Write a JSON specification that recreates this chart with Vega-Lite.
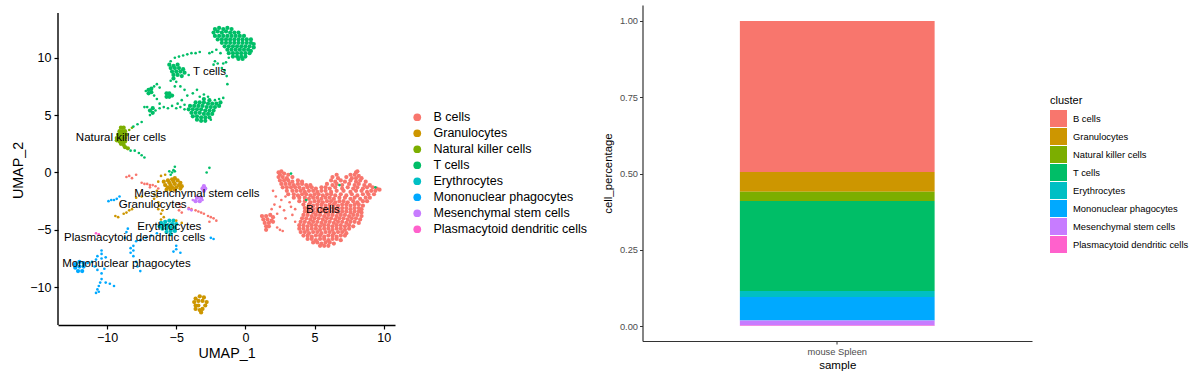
{"$schema":"https://vega.github.io/schema/vega-lite/v6.json","padding":{"left":11,"top":5,"right":0,"bottom":0},"background":"white","bounds":"flush","spacing":247.5,"resolve":{"scale":{"color":"independent"}},"config":{"view":{"stroke":null},"font":"Liberation Sans"},"datasets":{"cells":[
{"x":2.4,"y":0,"c":"B cells"},{"x":2.6,"y":0.1,"c":"B cells"},{"x":2.8,"y":-0.1,"c":"B cells"},{"x":8,"y":0,"c":"B cells"},{"x":8.1,"y":0.1,"c":"B cells"},{"x":2.5,"y":-0.2,"c":"B cells"},{"x":3.1,"y":-0.2,"c":"B cells"},{"x":7.6,"y":-0.2,"c":"B cells"},{"x":7.9,"y":-0.2,"c":"B cells"},{"x":8.2,"y":-0.3,"c":"B cells"},{"x":6.6,"y":-0.2,"c":"B cells"},{"x":2.4,"y":-0.4,"c":"B cells"},{"x":2.7,"y":-0.4,"c":"B cells"},{"x":3,"y":-0.5,"c":"B cells"},{"x":3.4,"y":-0.4,"c":"B cells"},{"x":6.3,"y":-0.4,"c":"B cells"},{"x":6.7,"y":-0.5,"c":"B cells"},{"x":7.3,"y":-0.4,"c":"B cells"},{"x":7.7,"y":-0.5,"c":"B cells"},{"x":8,"y":-0.5,"c":"B cells"},{"x":8.4,"y":-0.5,"c":"B cells"},
{"x":2.5,"y":-0.7,"c":"B cells"},{"x":2.8,"y":-0.7,"c":"B cells"},{"x":3.1,"y":-0.7,"c":"B cells"},{"x":3.4,"y":-0.8,"c":"B cells"},{"x":3.8,"y":-0.7,"c":"B cells"},{"x":4.1,"y":-0.8,"c":"B cells"},{"x":6.2,"y":-0.7,"c":"B cells"},{"x":6.5,"y":-0.8,"c":"B cells"},{"x":6.9,"y":-0.7,"c":"B cells"},{"x":7.2,"y":-0.8,"c":"B cells"},{"x":7.6,"y":-0.7,"c":"B cells"},{"x":8,"y":-0.8,"c":"B cells"},{"x":8.3,"y":-0.7,"c":"B cells"},{"x":8.7,"y":-0.8,"c":"B cells"},
{"x":2.6,"y":-1,"c":"B cells"},{"x":2.9,"y":-1,"c":"B cells"},{"x":3.2,"y":-1,"c":"B cells"},{"x":3.5,"y":-1.1,"c":"B cells"},{"x":3.8,"y":-1,"c":"B cells"},{"x":4.1,"y":-1,"c":"B cells"},{"x":4.4,"y":-1.1,"c":"B cells"},{"x":4.7,"y":-1.1,"c":"B cells"},{"x":5.9,"y":-1,"c":"B cells"},{"x":6.3,"y":-1.1,"c":"B cells"},{"x":6.6,"y":-1,"c":"B cells"},{"x":7,"y":-1.1,"c":"B cells"},{"x":7.5,"y":-1,"c":"B cells"},{"x":7.9,"y":-1.1,"c":"B cells"},{"x":8.2,"y":-1,"c":"B cells"},{"x":8.6,"y":-1.1,"c":"B cells"},{"x":9,"y":-1.1,"c":"B cells"},
{"x":2.7,"y":-1.3,"c":"B cells"},{"x":3,"y":-1.3,"c":"B cells"},{"x":3.3,"y":-1.3,"c":"B cells"},{"x":3.6,"y":-1.3,"c":"B cells"},{"x":3.9,"y":-1.3,"c":"B cells"},{"x":4.2,"y":-1.4,"c":"B cells"},{"x":4.5,"y":-1.3,"c":"B cells"},{"x":4.8,"y":-1.3,"c":"B cells"},{"x":5.1,"y":-1.4,"c":"B cells"},{"x":5.5,"y":-1.3,"c":"B cells"},{"x":5.8,"y":-1.3,"c":"B cells"},{"x":6.1,"y":-1.4,"c":"B cells"},{"x":6.5,"y":-1.3,"c":"B cells"},{"x":7,"y":-1.4,"c":"B cells"},{"x":7.4,"y":-1.3,"c":"B cells"},{"x":7.8,"y":-1.4,"c":"B cells"},{"x":8.1,"y":-1.3,"c":"B cells"},{"x":8.5,"y":-1.4,"c":"B cells"},{"x":8.8,"y":-1.3,"c":"B cells"},{"x":9.2,"y":-1.3,"c":"B cells"},{"x":9.5,"y":-1.4,"c":"B cells"},
{"x":3,"y":-1.6,"c":"B cells"},{"x":3.4,"y":-1.6,"c":"B cells"},{"x":3.7,"y":-1.6,"c":"B cells"},{"x":4,"y":-1.6,"c":"B cells"},{"x":4.3,"y":-1.7,"c":"B cells"},{"x":4.6,"y":-1.6,"c":"B cells"},{"x":4.9,"y":-1.6,"c":"B cells"},{"x":5.2,"y":-1.7,"c":"B cells"},{"x":5.5,"y":-1.6,"c":"B cells"},{"x":5.8,"y":-1.6,"c":"B cells"},{"x":6.2,"y":-1.7,"c":"B cells"},{"x":6.6,"y":-1.6,"c":"B cells"},{"x":7.1,"y":-1.6,"c":"B cells"},{"x":7.6,"y":-1.7,"c":"B cells"},{"x":8,"y":-1.6,"c":"B cells"},{"x":8.4,"y":-1.6,"c":"B cells"},{"x":8.8,"y":-1.7,"c":"B cells"},{"x":9.1,"y":-1.6,"c":"B cells"},{"x":9.4,"y":-1.6,"c":"B cells"},{"x":9.7,"y":-1.5,"c":"B cells"},
{"x":3.1,"y":-1.9,"c":"B cells"},{"x":3.5,"y":-1.9,"c":"B cells"},{"x":3.8,"y":-2,"c":"B cells"},{"x":4.1,"y":-1.9,"c":"B cells"},{"x":4.4,"y":-1.9,"c":"B cells"},{"x":4.7,"y":-2,"c":"B cells"},{"x":5,"y":-1.9,"c":"B cells"},{"x":5.3,"y":-1.9,"c":"B cells"},{"x":5.6,"y":-2,"c":"B cells"},{"x":5.9,"y":-1.9,"c":"B cells"},{"x":6.2,"y":-1.9,"c":"B cells"},{"x":6.5,"y":-2,"c":"B cells"},{"x":6.9,"y":-1.9,"c":"B cells"},{"x":7.3,"y":-2,"c":"B cells"},{"x":7.7,"y":-1.9,"c":"B cells"},{"x":8.1,"y":-2,"c":"B cells"},{"x":8.5,"y":-1.9,"c":"B cells"},{"x":8.9,"y":-1.9,"c":"B cells"},{"x":9.3,"y":-1.9,"c":"B cells"},
{"x":3.5,"y":-2.2,"c":"B cells"},{"x":3.9,"y":-2.2,"c":"B cells"},{"x":4.3,"y":-2.2,"c":"B cells"},{"x":4.6,"y":-2.3,"c":"B cells"},{"x":4.9,"y":-2.2,"c":"B cells"},{"x":5.2,"y":-2.2,"c":"B cells"},{"x":5.5,"y":-2.3,"c":"B cells"},{"x":5.8,"y":-2.2,"c":"B cells"},{"x":6.1,"y":-2.2,"c":"B cells"},{"x":6.4,"y":-2.3,"c":"B cells"},{"x":6.8,"y":-2.2,"c":"B cells"},{"x":7.2,"y":-2.2,"c":"B cells"},{"x":7.6,"y":-2.3,"c":"B cells"},{"x":7.9,"y":-2.2,"c":"B cells"},{"x":8.3,"y":-2.3,"c":"B cells"},{"x":8.7,"y":-2.2,"c":"B cells"},{"x":9,"y":-2.2,"c":"B cells"},
{"x":3.9,"y":-2.5,"c":"B cells"},{"x":4.3,"y":-2.5,"c":"B cells"},{"x":4.7,"y":-2.6,"c":"B cells"},{"x":5,"y":-2.5,"c":"B cells"},{"x":5.3,"y":-2.5,"c":"B cells"},{"x":5.6,"y":-2.6,"c":"B cells"},{"x":5.9,"y":-2.5,"c":"B cells"},{"x":6.2,"y":-2.5,"c":"B cells"},{"x":6.5,"y":-2.6,"c":"B cells"},{"x":6.8,"y":-2.5,"c":"B cells"},{"x":7.1,"y":-2.5,"c":"B cells"},{"x":7.4,"y":-2.6,"c":"B cells"},{"x":7.8,"y":-2.5,"c":"B cells"},{"x":8.1,"y":-2.6,"c":"B cells"},{"x":8.5,"y":-2.5,"c":"B cells"},{"x":8.8,"y":-2.5,"c":"B cells"},
{"x":4.2,"y":-2.8,"c":"B cells"},{"x":4.6,"y":-2.8,"c":"B cells"},{"x":4.9,"y":-2.9,"c":"B cells"},{"x":5.2,"y":-2.8,"c":"B cells"},{"x":5.5,"y":-2.8,"c":"B cells"},{"x":5.8,"y":-2.9,"c":"B cells"},{"x":6.1,"y":-2.8,"c":"B cells"},{"x":6.4,"y":-2.8,"c":"B cells"},{"x":6.7,"y":-2.9,"c":"B cells"},{"x":7,"y":-2.8,"c":"B cells"},{"x":7.3,"y":-2.8,"c":"B cells"},{"x":7.6,"y":-2.9,"c":"B cells"},{"x":7.9,"y":-2.8,"c":"B cells"},{"x":8.2,"y":-2.8,"c":"B cells"},{"x":8.5,"y":-2.9,"c":"B cells"},
{"x":4.3,"y":-3.1,"c":"B cells"},{"x":4.6,"y":-3.1,"c":"B cells"},{"x":4.9,"y":-3.2,"c":"B cells"},{"x":5.2,"y":-3.1,"c":"B cells"},{"x":5.5,"y":-3.1,"c":"B cells"},{"x":5.8,"y":-3.2,"c":"B cells"},{"x":6.1,"y":-3.1,"c":"B cells"},{"x":6.4,"y":-3.1,"c":"B cells"},{"x":6.7,"y":-3.2,"c":"B cells"},{"x":7,"y":-3.1,"c":"B cells"},{"x":7.3,"y":-3.1,"c":"B cells"},{"x":7.6,"y":-3.2,"c":"B cells"},{"x":7.9,"y":-3.1,"c":"B cells"},{"x":8.2,"y":-3.1,"c":"B cells"},{"x":8.4,"y":-3.2,"c":"B cells"},
{"x":4.3,"y":-3.4,"c":"B cells"},{"x":4.6,"y":-3.4,"c":"B cells"},{"x":4.9,"y":-3.5,"c":"B cells"},{"x":5.2,"y":-3.4,"c":"B cells"},{"x":5.5,"y":-3.4,"c":"B cells"},{"x":5.8,"y":-3.5,"c":"B cells"},{"x":6.1,"y":-3.4,"c":"B cells"},{"x":6.4,"y":-3.4,"c":"B cells"},{"x":6.7,"y":-3.5,"c":"B cells"},{"x":7,"y":-3.4,"c":"B cells"},{"x":7.3,"y":-3.4,"c":"B cells"},{"x":7.6,"y":-3.5,"c":"B cells"},{"x":7.9,"y":-3.4,"c":"B cells"},{"x":8.2,"y":-3.4,"c":"B cells"},{"x":8.4,"y":-3.5,"c":"B cells"},
{"x":4.2,"y":-3.7,"c":"B cells"},{"x":4.5,"y":-3.7,"c":"B cells"},{"x":4.8,"y":-3.8,"c":"B cells"},{"x":5.1,"y":-3.7,"c":"B cells"},{"x":5.4,"y":-3.7,"c":"B cells"},{"x":5.7,"y":-3.8,"c":"B cells"},{"x":6,"y":-3.7,"c":"B cells"},{"x":6.3,"y":-3.7,"c":"B cells"},{"x":6.6,"y":-3.8,"c":"B cells"},{"x":6.9,"y":-3.7,"c":"B cells"},{"x":7.2,"y":-3.7,"c":"B cells"},{"x":7.5,"y":-3.8,"c":"B cells"},{"x":7.8,"y":-3.7,"c":"B cells"},{"x":8.1,"y":-3.7,"c":"B cells"},{"x":8.4,"y":-3.8,"c":"B cells"},
{"x":4.1,"y":-4,"c":"B cells"},{"x":4.4,"y":-4,"c":"B cells"},{"x":4.7,"y":-4.1,"c":"B cells"},{"x":5,"y":-4,"c":"B cells"},{"x":5.3,"y":-4,"c":"B cells"},{"x":5.6,"y":-4.1,"c":"B cells"},{"x":5.9,"y":-4,"c":"B cells"},{"x":6.2,"y":-4,"c":"B cells"},{"x":6.5,"y":-4.1,"c":"B cells"},{"x":6.8,"y":-4,"c":"B cells"},{"x":7.1,"y":-4,"c":"B cells"},{"x":7.4,"y":-4.1,"c":"B cells"},{"x":7.7,"y":-4,"c":"B cells"},{"x":8,"y":-4,"c":"B cells"},{"x":8.3,"y":-4.1,"c":"B cells"},
{"x":4,"y":-4.3,"c":"B cells"},{"x":4.3,"y":-4.3,"c":"B cells"},{"x":4.6,"y":-4.4,"c":"B cells"},{"x":4.9,"y":-4.3,"c":"B cells"},{"x":5.2,"y":-4.3,"c":"B cells"},{"x":5.5,"y":-4.4,"c":"B cells"},{"x":5.8,"y":-4.3,"c":"B cells"},{"x":6.1,"y":-4.3,"c":"B cells"},{"x":6.4,"y":-4.4,"c":"B cells"},{"x":6.7,"y":-4.3,"c":"B cells"},{"x":7,"y":-4.3,"c":"B cells"},{"x":7.3,"y":-4.4,"c":"B cells"},{"x":7.6,"y":-4.3,"c":"B cells"},{"x":7.9,"y":-4.3,"c":"B cells"},{"x":8.2,"y":-4.4,"c":"B cells"},
{"x":3.9,"y":-4.6,"c":"B cells"},{"x":4.2,"y":-4.6,"c":"B cells"},{"x":4.5,"y":-4.7,"c":"B cells"},{"x":4.8,"y":-4.6,"c":"B cells"},{"x":5.1,"y":-4.6,"c":"B cells"},{"x":5.4,"y":-4.7,"c":"B cells"},{"x":5.7,"y":-4.6,"c":"B cells"},{"x":6,"y":-4.6,"c":"B cells"},{"x":6.3,"y":-4.7,"c":"B cells"},{"x":6.6,"y":-4.6,"c":"B cells"},{"x":6.9,"y":-4.6,"c":"B cells"},{"x":7.2,"y":-4.7,"c":"B cells"},{"x":7.5,"y":-4.6,"c":"B cells"},{"x":7.8,"y":-4.7,"c":"B cells"},
{"x":3.9,"y":-4.9,"c":"B cells"},{"x":4.2,"y":-4.9,"c":"B cells"},{"x":4.5,"y":-5,"c":"B cells"},{"x":4.8,"y":-4.9,"c":"B cells"},{"x":5.1,"y":-4.9,"c":"B cells"},{"x":5.4,"y":-5,"c":"B cells"},{"x":5.7,"y":-4.9,"c":"B cells"},{"x":6,"y":-4.9,"c":"B cells"},{"x":6.3,"y":-5,"c":"B cells"},{"x":6.6,"y":-4.9,"c":"B cells"},{"x":6.9,"y":-4.9,"c":"B cells"},{"x":7.2,"y":-5,"c":"B cells"},{"x":7.5,"y":-4.9,"c":"B cells"},
{"x":4,"y":-5.2,"c":"B cells"},{"x":4.3,"y":-5.2,"c":"B cells"},{"x":4.6,"y":-5.3,"c":"B cells"},{"x":4.9,"y":-5.2,"c":"B cells"},{"x":5.2,"y":-5.2,"c":"B cells"},{"x":5.5,"y":-5.3,"c":"B cells"},{"x":5.8,"y":-5.2,"c":"B cells"},{"x":6.1,"y":-5.2,"c":"B cells"},{"x":6.4,"y":-5.3,"c":"B cells"},{"x":6.7,"y":-5.2,"c":"B cells"},{"x":7,"y":-5.2,"c":"B cells"},{"x":7.3,"y":-5.3,"c":"B cells"},
{"x":4.2,"y":-5.5,"c":"B cells"},{"x":4.5,"y":-5.5,"c":"B cells"},{"x":4.8,"y":-5.6,"c":"B cells"},{"x":5.1,"y":-5.5,"c":"B cells"},{"x":5.4,"y":-5.5,"c":"B cells"},{"x":5.7,"y":-5.6,"c":"B cells"},{"x":6,"y":-5.5,"c":"B cells"},{"x":6.3,"y":-5.5,"c":"B cells"},{"x":6.6,"y":-5.6,"c":"B cells"},{"x":6.9,"y":-5.5,"c":"B cells"},{"x":7.2,"y":-5.5,"c":"B cells"},
{"x":4.5,"y":-5.8,"c":"B cells"},{"x":4.8,"y":-5.8,"c":"B cells"},{"x":5.1,"y":-5.9,"c":"B cells"},{"x":5.4,"y":-5.8,"c":"B cells"},{"x":5.7,"y":-5.8,"c":"B cells"},{"x":6,"y":-5.9,"c":"B cells"},{"x":6.3,"y":-5.8,"c":"B cells"},{"x":6.6,"y":-5.8,"c":"B cells"},{"x":6.9,"y":-5.9,"c":"B cells"},
{"x":4.9,"y":-6.1,"c":"B cells"},{"x":5.2,"y":-6.1,"c":"B cells"},{"x":5.5,"y":-6.2,"c":"B cells"},{"x":5.8,"y":-6.1,"c":"B cells"},{"x":6.1,"y":-6.1,"c":"B cells"},{"x":6.4,"y":-6.2,"c":"B cells"},{"x":5.4,"y":-6.4,"c":"B cells"},{"x":5.7,"y":-6.4,"c":"B cells"},{"x":6,"y":-6.4,"c":"B cells"},
{"x":1.2,"y":-3.8,"c":"B cells"},{"x":1.5,"y":-3.8,"c":"B cells"},{"x":1.8,"y":-3.7,"c":"B cells"},{"x":2,"y":-3.9,"c":"B cells"},{"x":1.3,"y":-4.1,"c":"B cells"},{"x":1.6,"y":-4.1,"c":"B cells"},{"x":1.9,"y":-4.2,"c":"B cells"},{"x":1.4,"y":-4.4,"c":"B cells"},{"x":1.7,"y":-4.4,"c":"B cells"},{"x":2,"y":-4.3,"c":"B cells"},{"x":1.5,"y":-4.7,"c":"B cells"},{"x":1.7,"y":-4.7,"c":"B cells"},{"x":1.5,"y":-5,"c":"B cells"},
{"x":-5.9,"y":-0.8,"c":"Granulocytes"},{"x":-5.6,"y":-0.7,"c":"Granulocytes"},{"x":-5.3,"y":-0.6,"c":"Granulocytes"},{"x":-5.1,"y":-0.5,"c":"Granulocytes"},{"x":-5.5,"y":-0.9,"c":"Granulocytes"},{"x":-5.2,"y":-0.8,"c":"Granulocytes"},{"x":-4.9,"y":-0.7,"c":"Granulocytes"},{"x":-4.7,"y":-0.9,"c":"Granulocytes"},{"x":-5.4,"y":-1.1,"c":"Granulocytes"},{"x":-5.1,"y":-1,"c":"Granulocytes"},{"x":-4.8,"y":-1.1,"c":"Granulocytes"},{"x":-4.6,"y":-1.2,"c":"Granulocytes"},{"x":-5.6,"y":-1.3,"c":"Granulocytes"},{"x":-5.3,"y":-1.3,"c":"Granulocytes"},{"x":-5,"y":-1.3,"c":"Granulocytes"},{"x":-4.7,"y":-1.4,"c":"Granulocytes"},{"x":-5.7,"y":-1.5,"c":"Granulocytes"},{"x":-5.4,"y":-1.5,"c":"Granulocytes"},{"x":-5.1,"y":-1.5,"c":"Granulocytes"},{"x":-5.8,"y":-1.1,"c":"Granulocytes"},
{"x":-3.6,"y":-11,"c":"Granulocytes"},{"x":-3.3,"y":-10.8,"c":"Granulocytes"},{"x":-3,"y":-10.9,"c":"Granulocytes"},{"x":-3.7,"y":-11.3,"c":"Granulocytes"},{"x":-3.4,"y":-11.2,"c":"Granulocytes"},{"x":-3.1,"y":-11.2,"c":"Granulocytes"},{"x":-2.8,"y":-11.3,"c":"Granulocytes"},{"x":-3.6,"y":-11.6,"c":"Granulocytes"},{"x":-3.4,"y":-11.6,"c":"Granulocytes"},{"x":-2.9,"y":-11.6,"c":"Granulocytes"},{"x":-3.6,"y":-11.9,"c":"Granulocytes"},{"x":-3.3,"y":-12,"c":"Granulocytes"},{"x":-3.1,"y":-11.9,"c":"Granulocytes"},{"x":-3.2,"y":-12.2,"c":"Granulocytes"},
{"x":-9,"y":3.9,"c":"Natural killer cells"},{"x":-8.8,"y":3.9,"c":"Natural killer cells"},{"x":-9.1,"y":3.6,"c":"Natural killer cells"},{"x":-8.9,"y":3.6,"c":"Natural killer cells"},{"x":-8.7,"y":3.6,"c":"Natural killer cells"},{"x":-9.2,"y":3.3,"c":"Natural killer cells"},{"x":-9,"y":3.3,"c":"Natural killer cells"},{"x":-8.8,"y":3.3,"c":"Natural killer cells"},{"x":-8.6,"y":3.3,"c":"Natural killer cells"},{"x":-9.3,"y":3,"c":"Natural killer cells"},{"x":-9.1,"y":3,"c":"Natural killer cells"},{"x":-8.9,"y":3,"c":"Natural killer cells"},{"x":-8.7,"y":3,"c":"Natural killer cells"},{"x":-9.3,"y":2.8,"c":"Natural killer cells"},{"x":-9.1,"y":2.7,"c":"Natural killer cells"},{"x":-8.9,"y":2.7,"c":"Natural killer cells"},{"x":-8.7,"y":2.7,"c":"Natural killer cells"},{"x":-9,"y":2.5,"c":"Natural killer cells"},{"x":-8.8,"y":2.4,"c":"Natural killer cells"},{"x":-8.7,"y":2.2,"c":"Natural killer cells"},{"x":-8.5,"y":2.1,"c":"Natural killer cells"},
{"x":-2.2,"y":12.5,"c":"T cells"},{"x":-1.9,"y":12.6,"c":"T cells"},{"x":-1.6,"y":12.5,"c":"T cells"},{"x":-1.3,"y":12.6,"c":"T cells"},{"x":-1,"y":12.5,"c":"T cells"},{"x":-2.3,"y":12.2,"c":"T cells"},{"x":-2,"y":12.3,"c":"T cells"},{"x":-1.7,"y":12.2,"c":"T cells"},{"x":-1.4,"y":12.3,"c":"T cells"},{"x":-1.1,"y":12.2,"c":"T cells"},{"x":-0.8,"y":12.2,"c":"T cells"},{"x":-0.5,"y":12.2,"c":"T cells"},{"x":-2.2,"y":11.9,"c":"T cells"},{"x":-1.9,"y":11.9,"c":"T cells"},{"x":-1.6,"y":11.9,"c":"T cells"},{"x":-1.3,"y":11.9,"c":"T cells"},{"x":-1,"y":11.9,"c":"T cells"},{"x":-0.7,"y":11.9,"c":"T cells"},{"x":-0.4,"y":11.9,"c":"T cells"},{"x":-0.1,"y":11.9,"c":"T cells"},{"x":-2,"y":11.6,"c":"T cells"},{"x":-1.7,"y":11.6,"c":"T cells"},{"x":-1.4,"y":11.6,"c":"T cells"},{"x":-1.1,"y":11.6,"c":"T cells"},{"x":-0.8,"y":11.6,"c":"T cells"},{"x":-0.5,"y":11.6,"c":"T cells"},{"x":-0.2,"y":11.6,"c":"T cells"},{"x":0.1,"y":11.6,"c":"T cells"},{"x":0.4,"y":11.6,"c":"T cells"},{"x":-1.7,"y":11.3,"c":"T cells"},{"x":-1.4,"y":11.3,"c":"T cells"},{"x":-1.1,"y":11.3,"c":"T cells"},{"x":-0.8,"y":11.3,"c":"T cells"},{"x":-0.5,"y":11.3,"c":"T cells"},{"x":-0.2,"y":11.3,"c":"T cells"},{"x":0.1,"y":11.3,"c":"T cells"},{"x":0.4,"y":11.3,"c":"T cells"},{"x":0.6,"y":11.2,"c":"T cells"},{"x":-1.5,"y":11,"c":"T cells"},{"x":-1.2,"y":11,"c":"T cells"},{"x":-0.9,"y":11,"c":"T cells"},{"x":-0.6,"y":11,"c":"T cells"},{"x":-0.3,"y":11,"c":"T cells"},{"x":0,"y":11,"c":"T cells"},{"x":0.3,"y":11,"c":"T cells"},{"x":0.6,"y":10.9,"c":"T cells"},{"x":-1.3,"y":10.7,"c":"T cells"},{"x":-1,"y":10.7,"c":"T cells"},{"x":-0.7,"y":10.7,"c":"T cells"},{"x":-0.4,"y":10.7,"c":"T cells"},{"x":-0.1,"y":10.7,"c":"T cells"},{"x":0.2,"y":10.7,"c":"T cells"},{"x":0.4,"y":10.6,"c":"T cells"},{"x":-1.2,"y":10.4,"c":"T cells"},{"x":-0.9,"y":10.4,"c":"T cells"},{"x":-0.6,"y":10.4,"c":"T cells"},{"x":-0.3,"y":10.4,"c":"T cells"},{"x":0,"y":10.4,"c":"T cells"},{"x":0.3,"y":10.4,"c":"T cells"},{"x":-0.9,"y":10.1,"c":"T cells"},{"x":-0.6,"y":10.1,"c":"T cells"},{"x":-0.3,"y":10.1,"c":"T cells"},{"x":0,"y":10.1,"c":"T cells"},{"x":-0.5,"y":9.9,"c":"T cells"},{"x":-0.2,"y":9.9,"c":"T cells"},
{"x":-5.5,"y":9.4,"c":"T cells"},{"x":-5.2,"y":9.3,"c":"T cells"},{"x":-4.9,"y":9.4,"c":"T cells"},{"x":-5.4,"y":9.1,"c":"T cells"},{"x":-5.1,"y":9.1,"c":"T cells"},{"x":-4.8,"y":9.1,"c":"T cells"},{"x":-4.5,"y":9,"c":"T cells"},{"x":-5.3,"y":8.8,"c":"T cells"},{"x":-5,"y":8.8,"c":"T cells"},{"x":-4.7,"y":8.8,"c":"T cells"},{"x":-4.4,"y":8.7,"c":"T cells"},{"x":-5.2,"y":8.5,"c":"T cells"},{"x":-4.9,"y":8.5,"c":"T cells"},{"x":-4.6,"y":8.4,"c":"T cells"},{"x":-5.2,"y":8.2,"c":"T cells"},
{"x":-7,"y":7.2,"c":"T cells"},{"x":-6.8,"y":7.3,"c":"T cells"},{"x":-7,"y":6.9,"c":"T cells"},{"x":-6.8,"y":7,"c":"T cells"},{"x":-5.7,"y":6.9,"c":"T cells"},{"x":-5.5,"y":6.9,"c":"T cells"},{"x":-5.7,"y":6.6,"c":"T cells"},{"x":-5.5,"y":6.6,"c":"T cells"},{"x":-5.3,"y":6.7,"c":"T cells"},{"x":-6.9,"y":5.4,"c":"T cells"},{"x":-6.7,"y":5.6,"c":"T cells"},{"x":-6.7,"y":5.2,"c":"T cells"},
{"x":-3,"y":6.4,"c":"T cells"},{"x":-2.6,"y":6.3,"c":"T cells"},{"x":-3.6,"y":6.1,"c":"T cells"},{"x":-3.3,"y":6.1,"c":"T cells"},{"x":-3,"y":6.1,"c":"T cells"},{"x":-2.7,"y":6,"c":"T cells"},{"x":-2.4,"y":6,"c":"T cells"},{"x":-2.1,"y":6,"c":"T cells"},{"x":-1.8,"y":6.1,"c":"T cells"},{"x":-4,"y":5.8,"c":"T cells"},{"x":-3.7,"y":5.8,"c":"T cells"},{"x":-3.4,"y":5.8,"c":"T cells"},{"x":-3.1,"y":5.8,"c":"T cells"},{"x":-2.8,"y":5.7,"c":"T cells"},{"x":-2.5,"y":5.7,"c":"T cells"},{"x":-2.2,"y":5.7,"c":"T cells"},{"x":-1.9,"y":5.8,"c":"T cells"},{"x":-4.1,"y":5.5,"c":"T cells"},{"x":-3.8,"y":5.5,"c":"T cells"},{"x":-3.5,"y":5.5,"c":"T cells"},{"x":-3.2,"y":5.5,"c":"T cells"},{"x":-2.9,"y":5.4,"c":"T cells"},{"x":-2.6,"y":5.4,"c":"T cells"},{"x":-2.3,"y":5.4,"c":"T cells"},{"x":-3.9,"y":5.2,"c":"T cells"},{"x":-3.6,"y":5.2,"c":"T cells"},{"x":-3.3,"y":5.2,"c":"T cells"},{"x":-3,"y":5.1,"c":"T cells"},{"x":-2.7,"y":5.1,"c":"T cells"},{"x":-2.4,"y":5.1,"c":"T cells"},{"x":-3.8,"y":4.9,"c":"T cells"},{"x":-3.5,"y":4.9,"c":"T cells"},{"x":-3.2,"y":4.8,"c":"T cells"},{"x":-2.9,"y":4.8,"c":"T cells"},{"x":-2.6,"y":4.8,"c":"T cells"},{"x":-3.5,"y":4.6,"c":"T cells"},{"x":-3.2,"y":4.5,"c":"T cells"},{"x":-2.9,"y":4.5,"c":"T cells"},
{"x":-6.1,"y":-4.4,"c":"Erythrocytes"},{"x":-5.8,"y":-4.3,"c":"Erythrocytes"},{"x":-5.5,"y":-4.2,"c":"Erythrocytes"},{"x":-5.2,"y":-4.2,"c":"Erythrocytes"},{"x":-6.2,"y":-4.7,"c":"Erythrocytes"},{"x":-5.9,"y":-4.6,"c":"Erythrocytes"},{"x":-5.6,"y":-4.6,"c":"Erythrocytes"},{"x":-5.3,"y":-4.5,"c":"Erythrocytes"},{"x":-5,"y":-4.5,"c":"Erythrocytes"},{"x":-6,"y":-4.9,"c":"Erythrocytes"},{"x":-5.7,"y":-4.9,"c":"Erythrocytes"},{"x":-5.4,"y":-4.8,"c":"Erythrocytes"},{"x":-5.1,"y":-4.8,"c":"Erythrocytes"},{"x":-5.7,"y":-5.2,"c":"Erythrocytes"},{"x":-5.4,"y":-5.1,"c":"Erythrocytes"},{"x":-5.1,"y":-5.1,"c":"Erythrocytes"},{"x":-5.4,"y":-5.4,"c":"Erythrocytes"},
{"x":-12.3,"y":-8,"c":"Mononuclear phagocytes"},{"x":-12,"y":-7.8,"c":"Mononuclear phagocytes"},{"x":-11.7,"y":-7.9,"c":"Mononuclear phagocytes"},{"x":-12.3,"y":-8.3,"c":"Mononuclear phagocytes"},{"x":-12,"y":-8.2,"c":"Mononuclear phagocytes"},{"x":-11.7,"y":-8.2,"c":"Mononuclear phagocytes"},{"x":-12.1,"y":-8.6,"c":"Mononuclear phagocytes"},{"x":-11.8,"y":-8.6,"c":"Mononuclear phagocytes"},
{"x":-3,"y":-1.2,"c":"Mesenchymal stem cells"},{"x":-3.1,"y":-1.4,"c":"Mesenchymal stem cells"},{"x":-2.9,"y":-1.4,"c":"Mesenchymal stem cells"},{"x":-3,"y":-1.6,"c":"Mesenchymal stem cells"},{"x":-3.5,"y":-2.2,"c":"Mesenchymal stem cells"},{"x":-3.2,"y":-2.2,"c":"Mesenchymal stem cells"},{"x":-3.6,"y":-2.5,"c":"Mesenchymal stem cells"},{"x":-3.3,"y":-2.5,"c":"Mesenchymal stem cells"}
],"sparse":[
{"x":2.3,"y":-4.8,"c":"B cells"},{"x":2.5,"y":-5,"c":"B cells"},{"x":2.7,"y":-5.1,"c":"B cells"},{"x":2,"y":-1.6,"c":"B cells"},{"x":2.2,"y":-2.1,"c":"B cells"},{"x":2.6,"y":-2.4,"c":"B cells"},{"x":2.9,"y":-2.1,"c":"B cells"},{"x":3.2,"y":-2.6,"c":"B cells"},{"x":2.1,"y":-2.8,"c":"B cells"},{"x":2.5,"y":-3,"c":"B cells"},{"x":1.9,"y":-3.2,"c":"B cells"},{"x":2.8,"y":-3.3,"c":"B cells"},{"x":3.3,"y":-3,"c":"B cells"},{"x":3.6,"y":-3.2,"c":"B cells"},{"x":2.3,"y":-3.6,"c":"B cells"},{"x":2.9,"y":-4,"c":"B cells"},{"x":3.4,"y":-3.7,"c":"B cells"},{"x":3.6,"y":-4.3,"c":"B cells"},
{"x":-8.6,"y":-0.4,"c":"B cells"},{"x":-8.4,"y":-0.3,"c":"B cells"},{"x":-8.2,"y":-0.5,"c":"B cells"},{"x":-7.9,"y":-0.2,"c":"B cells"},{"x":-7.5,"y":-0.9,"c":"B cells"},{"x":-7.3,"y":-1,"c":"B cells"},{"x":-7.1,"y":-1,"c":"B cells"},{"x":-6.9,"y":-1.1,"c":"B cells"},{"x":-6.7,"y":-1.1,"c":"B cells"},{"x":-6.5,"y":-1.2,"c":"B cells"},{"x":-6.9,"y":-1.3,"c":"B cells"},{"x":-6.3,"y":-1.4,"c":"B cells"},{"x":-4.1,"y":-3.1,"c":"B cells"},{"x":-3.9,"y":-3.2,"c":"B cells"},{"x":-3.6,"y":-3.3,"c":"B cells"},{"x":-3.4,"y":-3.4,"c":"B cells"},{"x":-3.2,"y":-3.5,"c":"B cells"},{"x":-3,"y":-3.6,"c":"B cells"},{"x":-2.7,"y":-3.8,"c":"B cells"},{"x":-2.5,"y":-3.9,"c":"B cells"},{"x":-2.3,"y":-4,"c":"B cells"},{"x":-2.1,"y":-4.2,"c":"B cells"},{"x":-2.6,"y":-4.3,"c":"B cells"},{"x":-4.8,"y":-2.7,"c":"B cells"},{"x":-4.7,"y":-3,"c":"B cells"},{"x":-4.8,"y":-3.3,"c":"B cells"},{"x":-4.6,"y":-3.5,"c":"B cells"},
{"x":-6.3,"y":-0.8,"c":"Granulocytes"},{"x":-6.1,"y":-0.3,"c":"Granulocytes"},{"x":-5.8,"y":-0.2,"c":"Granulocytes"},{"x":-6.4,"y":-1.6,"c":"Granulocytes"},{"x":-6.6,"y":-1.9,"c":"Granulocytes"},{"x":-6.4,"y":-2.1,"c":"Granulocytes"},{"x":-6.6,"y":-2.3,"c":"Granulocytes"},{"x":-6.3,"y":-2.6,"c":"Granulocytes"},{"x":-6.2,"y":-2.9,"c":"Granulocytes"},{"x":-6.3,"y":-3.2,"c":"Granulocytes"},{"x":-6,"y":-3.3,"c":"Granulocytes"},{"x":-6.1,"y":-3.6,"c":"Granulocytes"},{"x":-5.9,"y":-3.9,"c":"Granulocytes"},{"x":-6.1,"y":-4.1,"c":"Granulocytes"},{"x":-8.2,"y":-3.2,"c":"Granulocytes"},{"x":-8.4,"y":-3.3,"c":"Granulocytes"},{"x":-8.6,"y":-3.5,"c":"Granulocytes"},{"x":-8.8,"y":-3.6,"c":"Granulocytes"},{"x":-9.4,"y":-3.8,"c":"Granulocytes"},{"x":-9.2,"y":-3.9,"c":"Granulocytes"},{"x":-7.5,"y":-2.1,"c":"Granulocytes"},{"x":-7.9,"y":-2.2,"c":"Granulocytes"},{"x":-5,"y":-4.2,"c":"Granulocytes"},{"x":-4.6,"y":-4.4,"c":"Granulocytes"},
{"x":-8.2,"y":3.9,"c":"Natural killer cells"},{"x":-8.4,"y":3.7,"c":"Natural killer cells"},
{"x":-1.2,"y":10,"c":"T cells"},{"x":-1.4,"y":9.6,"c":"T cells"},{"x":-1.6,"y":9.5,"c":"T cells"},{"x":-2,"y":9.5,"c":"T cells"},{"x":-2.3,"y":9.4,"c":"T cells"},{"x":-1.8,"y":10.4,"c":"T cells"},{"x":-2.2,"y":9.7,"c":"T cells"},{"x":-1.5,"y":8.9,"c":"T cells"},{"x":-1.35,"y":8.4,"c":"T cells"},{"x":-1.3,"y":7.7,"c":"T cells"},{"x":-1.7,"y":9.1,"c":"T cells"},{"x":-2.1,"y":10.7,"c":"T cells"},{"x":-2.6,"y":10.4,"c":"T cells"},{"x":-2.4,"y":10.5,"c":"T cells"},{"x":-3.3,"y":10.5,"c":"T cells"},{"x":-3.6,"y":10.4,"c":"T cells"},{"x":-3.9,"y":10.4,"c":"T cells"},{"x":-4.2,"y":10.3,"c":"T cells"},{"x":-4.5,"y":10.2,"c":"T cells"},{"x":-4.8,"y":10.1,"c":"T cells"},{"x":-5.1,"y":10,"c":"T cells"},{"x":-5.4,"y":9.7,"c":"T cells"},{"x":-4.1,"y":8.5,"c":"T cells"},{"x":-5.4,"y":8,"c":"T cells"},{"x":-5,"y":7.9,"c":"T cells"},{"x":-4.7,"y":7.5,"c":"T cells"},{"x":-5.1,"y":7.5,"c":"T cells"},{"x":-4.4,"y":7.2,"c":"T cells"},
{"x":-7.2,"y":7.1,"c":"T cells"},{"x":-6.6,"y":7.5,"c":"T cells"},{"x":-6.4,"y":7.7,"c":"T cells"},{"x":-6.2,"y":7.4,"c":"T cells"},{"x":-6.4,"y":6.4,"c":"T cells"},{"x":-6.2,"y":6,"c":"T cells"},{"x":-6.6,"y":6.7,"c":"T cells"},{"x":-4.6,"y":6.3,"c":"T cells"},{"x":-4.2,"y":6.7,"c":"T cells"},{"x":-4.9,"y":6,"c":"T cells"},{"x":-3.8,"y":6.9,"c":"T cells"},{"x":-7.3,"y":5.7,"c":"T cells"},{"x":-7.1,"y":5.7,"c":"T cells"},{"x":-6.9,"y":5,"c":"T cells"},{"x":-6.5,"y":5.4,"c":"T cells"},{"x":-6.2,"y":5.6,"c":"T cells"},{"x":-5.9,"y":5.7,"c":"T cells"},{"x":-5.6,"y":5.6,"c":"T cells"},{"x":-5.3,"y":5.8,"c":"T cells"},{"x":-5,"y":5.6,"c":"T cells"},{"x":-4.7,"y":5.7,"c":"T cells"},{"x":-4.4,"y":5.9,"c":"T cells"},{"x":-4.4,"y":5.5,"c":"T cells"},{"x":-3.5,"y":7.2,"c":"T cells"},{"x":-3,"y":6.8,"c":"T cells"},{"x":-3.3,"y":6.6,"c":"T cells"},{"x":-2.7,"y":6.6,"c":"T cells"},{"x":-2.2,"y":6.3,"c":"T cells"},{"x":-1.9,"y":6.4,"c":"T cells"},{"x":-1.6,"y":6.5,"c":"T cells"},{"x":-2.5,"y":4.6,"c":"T cells"},
{"x":-8.1,"y":4,"c":"T cells"},{"x":-7.8,"y":4.2,"c":"T cells"},{"x":-7.5,"y":4.4,"c":"T cells"},{"x":-8.3,"y":1.9,"c":"T cells"},{"x":-8,"y":1.9,"c":"T cells"},{"x":-7.7,"y":1.7,"c":"T cells"},{"x":-7.5,"y":1.5,"c":"T cells"},{"x":-7.3,"y":1.3,"c":"T cells"},{"x":-5.5,"y":0.1,"c":"T cells"},{"x":-5.3,"y":0,"c":"T cells"},{"x":-5.1,"y":0.5,"c":"T cells"},{"x":-5.2,"y":0.2,"c":"T cells"},{"x":-5.4,"y":-0.2,"c":"T cells"},{"x":-5.1,"y":0.1,"c":"T cells"},{"x":-2.6,"y":0.4,"c":"T cells"},{"x":-2.8,"y":0,"c":"T cells"},{"x":3.3,"y":-0.1,"c":"T cells"},{"x":6.8,"y":-1.1,"c":"T cells"},{"x":9.4,"y":-1.3,"c":"T cells"},{"x":4.4,"y":-2.4,"c":"T cells"},
{"x":-9.9,"y":-2.5,"c":"Mononuclear phagocytes"},{"x":-9.7,"y":-2.4,"c":"Mononuclear phagocytes"},{"x":-9.5,"y":-2.4,"c":"Mononuclear phagocytes"},{"x":-9.3,"y":-2.3,"c":"Mononuclear phagocytes"},{"x":-9.1,"y":-2.1,"c":"Mononuclear phagocytes"},{"x":-2.5,"y":-5.7,"c":"Mononuclear phagocytes"},{"x":-2.3,"y":-5.8,"c":"Mononuclear phagocytes"},{"x":-8.5,"y":-4.9,"c":"Mononuclear phagocytes"},{"x":-8.6,"y":-5.2,"c":"Mononuclear phagocytes"},{"x":-8.7,"y":-5.7,"c":"Mononuclear phagocytes"},{"x":-7.9,"y":-6,"c":"Mononuclear phagocytes"},{"x":-8.1,"y":-6.4,"c":"Mononuclear phagocytes"},{"x":-8.3,"y":-6.6,"c":"Mononuclear phagocytes"},{"x":-8.3,"y":-7,"c":"Mononuclear phagocytes"},{"x":-8.1,"y":-6.8,"c":"Mononuclear phagocytes"},{"x":-8.1,"y":-7.3,"c":"Mononuclear phagocytes"},{"x":-7.9,"y":-7.8,"c":"Mononuclear phagocytes"},{"x":-7.8,"y":-8.2,"c":"Mononuclear phagocytes"},{"x":-7.6,"y":-8.6,"c":"Mononuclear phagocytes"},{"x":-7.6,"y":-5.9,"c":"Mononuclear phagocytes"},{"x":-7.2,"y":-5.7,"c":"Mononuclear phagocytes"},{"x":-6.8,"y":-5.5,"c":"Mononuclear phagocytes"},{"x":-6.4,"y":-5.3,"c":"Mononuclear phagocytes"},{"x":-5,"y":-6.4,"c":"Mononuclear phagocytes"},{"x":-5,"y":-6.7,"c":"Mononuclear phagocytes"},{"x":-5.2,"y":-6.9,"c":"Mononuclear phagocytes"},{"x":-4.7,"y":-7,"c":"Mononuclear phagocytes"},
{"x":-11.4,"y":-7.9,"c":"Mononuclear phagocytes"},{"x":-11.1,"y":-7.8,"c":"Mononuclear phagocytes"},{"x":-10.8,"y":-7.6,"c":"Mononuclear phagocytes"},{"x":-10.4,"y":-6.8,"c":"Mononuclear phagocytes"},{"x":-10.4,"y":-7.1,"c":"Mononuclear phagocytes"},{"x":-10.7,"y":-7.3,"c":"Mononuclear phagocytes"},{"x":-10.1,"y":-7.4,"c":"Mononuclear phagocytes"},{"x":-10.4,"y":-7.5,"c":"Mononuclear phagocytes"},{"x":-10.9,"y":-8.2,"c":"Mononuclear phagocytes"},{"x":-10.7,"y":-8.5,"c":"Mononuclear phagocytes"},{"x":-10.4,"y":-8.8,"c":"Mononuclear phagocytes"},{"x":-10.2,"y":-8.4,"c":"Mononuclear phagocytes"},{"x":-10.4,"y":-9.3,"c":"Mononuclear phagocytes"},{"x":-10.5,"y":-9.6,"c":"Mononuclear phagocytes"},{"x":-10.6,"y":-9.9,"c":"Mononuclear phagocytes"},{"x":-10.7,"y":-10.2,"c":"Mononuclear phagocytes"},{"x":-10.8,"y":-10.5,"c":"Mononuclear phagocytes"},{"x":-10.6,"y":-10.4,"c":"Mononuclear phagocytes"},{"x":-10.1,"y":-9.6,"c":"Mononuclear phagocytes"},{"x":-9.8,"y":-9.7,"c":"Mononuclear phagocytes"},{"x":-9.5,"y":-9.9,"c":"Mononuclear phagocytes"},
{"x":-3.8,"y":-2.4,"c":"Mesenchymal stem cells"},{"x":-3.1,"y":-2.4,"c":"Mesenchymal stem cells"},{"x":-4.1,"y":-3.2,"c":"Mesenchymal stem cells"},{"x":-3.9,"y":-3.3,"c":"Mesenchymal stem cells"},
{"x":-10.8,"y":-5.3,"c":"Plasmacytoid dendritic cells"},{"x":-10.6,"y":-5.4,"c":"Plasmacytoid dendritic cells"}
],"labels":[{"x":-2.6,"y":8.75,"t":"T cells"},{"x":-9,"y":3,"t":"Natural killer cells"},{"x":5.6,"y":-3.25,"t":"B cells"},{"x":-3.5,"y":-1.9,"t":"Mesenchymal stem cells"},{"x":-6.7,"y":-2.85,"t":"Granulocytes"},{"x":-5.5,"y":-4.75,"t":"Erythrocytes"},{"x":-8,"y":-5.7,"t":"Plasmacytoid dendritic cells"},{"x":-8.6,"y":-7.95,"t":"Mononuclear phagocytes"}],"frame":[{"x":-13.55,"y":-13.3,"y2":13.9}],"shares":[{"sample":"mouse Spleen","cluster":"B cells","share":0.495,"rank":1},{"sample":"mouse Spleen","cluster":"Granulocytes","share":0.065,"rank":2},{"sample":"mouse Spleen","cluster":"Natural killer cells","share":0.03,"rank":3},{"sample":"mouse Spleen","cluster":"T cells","share":0.295,"rank":4},{"sample":"mouse Spleen","cluster":"Erythrocytes","share":0.02,"rank":5},{"sample":"mouse Spleen","cluster":"Mononuclear phagocytes","share":0.077,"rank":6},{"sample":"mouse Spleen","cluster":"Mesenchymal stem cells","share":0.016,"rank":7},{"sample":"mouse Spleen","cluster":"Plasmacytoid dendritic cells","share":0.002,"rank":8}]},
"hconcat":[{"width":337,"height":320,"layer":[
{"data":{"name":"cells"},"mark":{"type":"circle","size":18,"opacity":1},"encoding":{"x":{"field":"x","type":"quantitative","scale":{"domain":[-13.55,10.82],"nice":false,"zero":false},"axis":{"values":[-10,-5,0,5,10],"grid":false,"title":"UMAP_1","titleFontSize":14.3,"titleFontWeight":"normal","titleColor":"black","titlePadding":3,"labelFontSize":12.5,"labelColor":"black","labelPadding":2,"tickColor":"black","tickSize":4,"tickWidth":1.2,"domainColor":"black","domainWidth":1.4}},"y":{"field":"y","type":"quantitative","scale":{"domain":[-13.3,14.6],"nice":false,"zero":false},"axis":{"values":[-10,-5,0,5,10],"grid":false,"domain":false,"title":"UMAP_2","titleFontSize":14.3,"titleFontWeight":"normal","titleColor":"black","titleY":165,"titlePadding":4,"labelFontSize":12.5,"labelColor":"black","labelPadding":3,"tickColor":"black","tickSize":4,"tickWidth":1.2}},"color":{"field":"c","type":"nominal","scale":{"domain":["B cells","Granulocytes","Natural killer cells","T cells","Erythrocytes","Mononuclear phagocytes","Mesenchymal stem cells","Plasmacytoid dendritic cells"],"range":["#F8766D","#CD9600","#7CAE00","#00BE67","#00BFC4","#00A9FF","#C77CFF","#FF61CC"]},"legend":{"orient":"none","legendX":353,"legendY":106,"title":null,"symbolType":"circle","symbolSize":60,"symbolOpacity":1,"labelFontSize":12.5,"labelColor":"black","labelOffset":10,"rowPadding":3,"labelLimit":300}}}},
{"data":{"name":"sparse"},"mark":{"type":"circle","size":7,"opacity":1},"encoding":{"x":{"field":"x","type":"quantitative"},"y":{"field":"y","type":"quantitative"},"color":{"field":"c","type":"nominal","legend":null}}},
{"data":{"name":"labels"},"mark":{"type":"text","fontSize":11.5,"color":"black","align":"center","baseline":"middle"},"encoding":{"x":{"field":"x","type":"quantitative"},"y":{"field":"y","type":"quantitative"},"text":{"field":"t"}}},
{"data":{"name":"frame"},"mark":{"type":"rule","color":"black","strokeWidth":1.4},"encoding":{"x":{"field":"x","type":"quantitative"},"y":{"field":"y","type":"quantitative"},"y2":{"field":"y2"}}}
]},
{"width":389.5,"height":336,"data":{"name":"shares"},"mark":{"type":"bar","width":{"band":0.5}},"encoding":{"x":{"field":"sample","type":"nominal","scale":{"paddingInner":0,"paddingOuter":0},"axis":{"title":"sample","titleFontSize":11.5,"titleFontWeight":"normal","titleColor":"black","titlePadding":3,"labelAngle":0,"labelFontSize":9.3,"labelColor":"#4d4d4d","labelPadding":3,"tickColor":"#333333","tickSize":3,"domainColor":"#333333","domainWidth":1.2}},"y":{"field":"share","type":"quantitative","stack":"zero","scale":{"domain":[-0.0491,1.0524],"nice":false,"zero":false},"axis":{"values":[0,0.25,0.5,0.75,1],"format":".2f","grid":false,"title":"cell_percentage","titleFontSize":11.4,"titleFontWeight":"normal","titleColor":"black","titlePadding":6,"labelFontSize":9.3,"labelColor":"#4d4d4d","labelPadding":2,"tickColor":"#333333","tickSize":3,"domainColor":"#333333","domainWidth":1.2}},"order":{"field":"rank","type":"quantitative","sort":"descending"},"color":{"field":"cluster","type":"nominal","scale":{"domain":["B cells","Granulocytes","Natural killer cells","T cells","Erythrocytes","Mononuclear phagocytes","Mesenchymal stem cells","Plasmacytoid dendritic cells"],"range":["#F8766D","#CD9600","#7CAE00","#00BE67","#00BFC4","#00A9FF","#C77CFF","#FF61CC"]},"legend":{"orient":"none","legendX":407.5,"legendY":90,"title":"cluster","titleFontSize":11,"titleFontWeight":"normal","titleColor":"black","titlePadding":4,"symbolType":"square","symbolSize":289,"symbolStrokeWidth":0,"labelFontSize":9.4,"labelColor":"black","labelOffset":6,"rowPadding":1,"labelLimit":300}}}}
]}
